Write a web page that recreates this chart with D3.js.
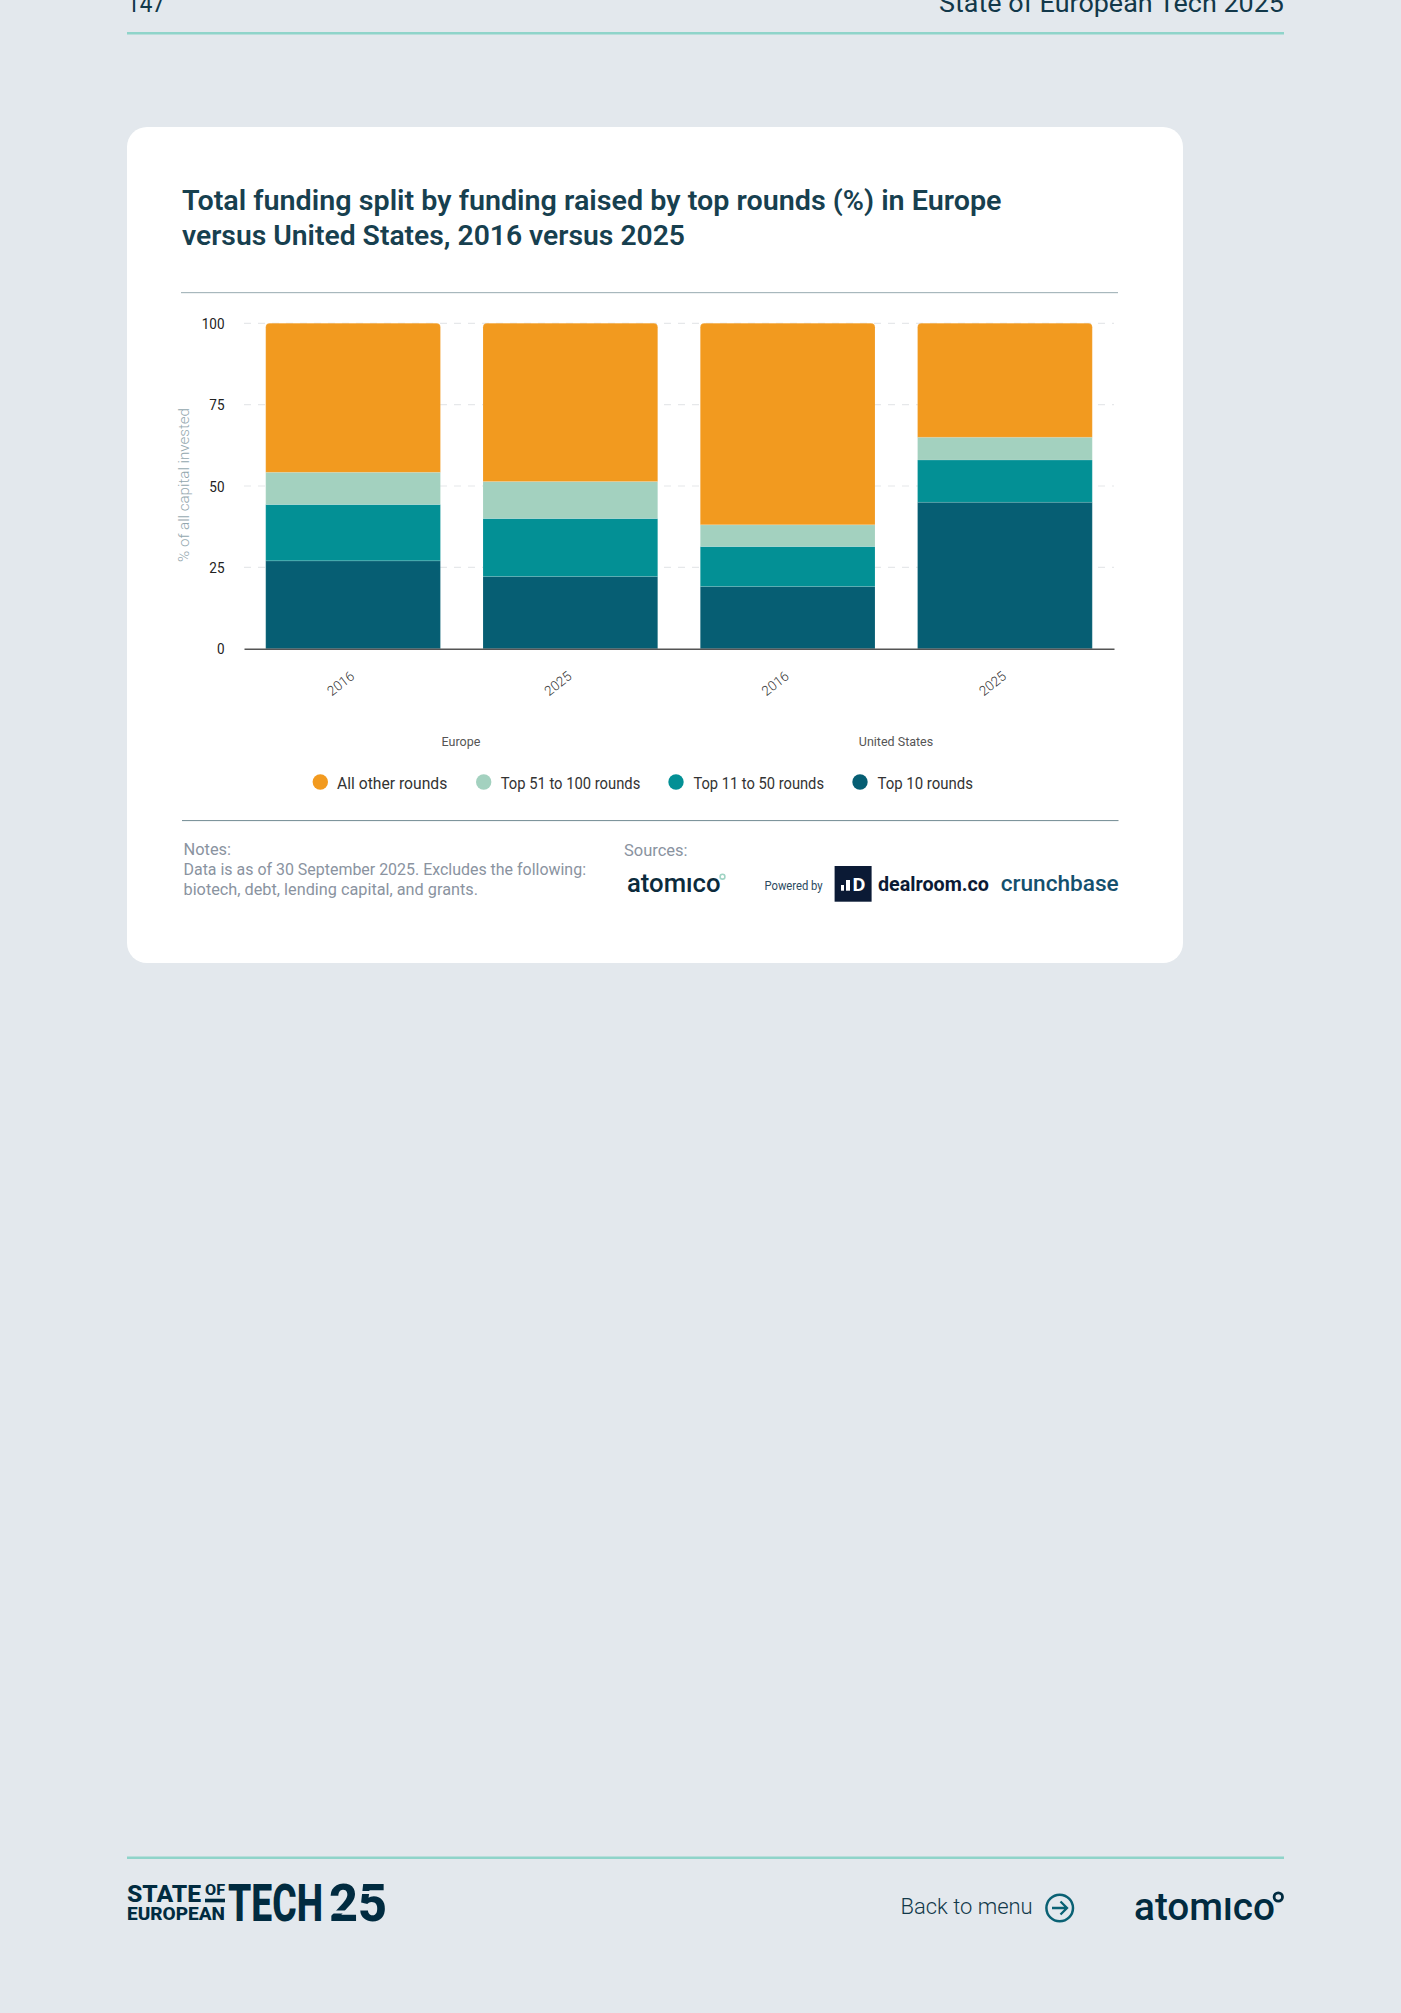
<!DOCTYPE html>
<html><head><meta charset="utf-8">
<script src="https://cdn.jsdelivr.net/npm/d3@7/dist/d3.min.js"></script>
<style>html,body{margin:0;padding:0;background:#e3e8ed;overflow:hidden}svg{display:block}text{font-family:Roboto,sans-serif}</style>
</head><body><div id="c"></div>
<script>
const regions = ["Europe", "United States"];
const years = ["2016", "2025"];
const seriesNames = ["Top 10 rounds", "Top 11 to 50 rounds", "Top 51 to 100 rounds", "All other rounds"];
const top10 = [27, 22.2, 19.1, 45];
const top11to50 = [17.3, 17.8, 12.3, 13];
const top51to100 = [9.9, 11.4, 6.7, 7];
const allOther = [45.8, 48.6, 61.9, 35];
const colors = ["#065e73", "#039095", "#a3d1bf", "#f29a1f"];
const yTicks = [0, 25, 50, 75, 100];
const legendOrder = ["All other rounds", "Top 51 to 100 rounds", "Top 11 to 50 rounds", "Top 10 rounds"];
const titleLines = ["Total funding split by funding raised by top rounds (%) in Europe", "versus United States, 2016 versus 2025"];
const noteLines = ["Notes:", "Data is as of 30 September 2025. Excludes the following:", "biotech, debt, lending capital, and grants."];

const svg = d3.select("#c").append("svg").attr("width", 1401).attr("height", 2013);

function T(s, x, x2, y, size, fill, weight, g) {
  const t = (g || svg).append("text").attr("x", x).attr("y", y).attr("font-size", size)
    .attr("fill", fill).attr("font-weight", weight || 400).text(s);
  if (x2) t.attr("textLength", x2 - x).attr("lengthAdjust", "spacingAndGlyphs");
  return t;
}
// wordmark: the logo's i is a dotless small capital
function logo(x, x2, y, size, fill) {
  const t = T(null, x, x2, y, size, fill, 500);
  t.append("tspan").text("atom");
  t.append("tspan").style("font-variant", "small-caps").text("i");
  t.append("tspan").text("co");
  return t;
}

// header
T("147", 127, 165, 12, 25, "#12384a", 400);
T("State of European Tech 2025", 939, 1284, 12, 25, "#12384a", 400);
svg.append("rect").attr("x", 127).attr("y", 32).attr("width", 1157).attr("height", 2.5).attr("fill", "#8fd4ca");

// card
svg.append("rect").attr("x", 127).attr("y", 127).attr("width", 1056).attr("height", 836).attr("rx", 20).attr("fill", "#fff");

// title
T(titleLines[0], 182, 1001.5, 210, 28.5, "#17404f", 600);
T(titleLines[1], 182, 685, 244.5, 28.5, "#17404f", 600);
svg.append("rect").attr("x", 181).attr("y", 292).attr("width", 937).attr("height", 1.2).attr("fill", "#a8b8bd");

// scales
const bars = regions.flatMap(r => years.map(y => r + "|" + y));
const x = d3.scaleBand().domain(bars).range([244, 1114]).paddingInner(0.196).paddingOuter(0.1);
const xGroup = d3.scaleBand().domain(regions).range([244, 1114]);
const y = d3.scaleLinear().domain([0, 100]).range([648.7, 323.3]);

// grid
svg.append("g").selectAll("line").data(yTicks.slice(1)).join("line")
  .attr("x1", 244).attr("x2", 1114).attr("y1", d => y(d)).attr("y2", d => y(d))
  .attr("stroke", "#e6e8ea").attr("stroke-width", 1.2).attr("stroke-dasharray", "7 7");

// stack
const rows = bars.map((b, i) => ({ key: b, [seriesNames[0]]: top10[i], [seriesNames[1]]: top11to50[i], [seriesNames[2]]: top51to100[i], [seriesNames[3]]: allOther[i] }));
const stack = d3.stack().keys(seriesNames)(rows);
stack.forEach((s, si) => {
  svg.append("g").selectAll("path").data(s).join("path").attr("fill", colors[si])
    .attr("stroke", "#fff").attr("stroke-opacity", 0.2).attr("stroke-width", 0.6)
    .attr("d", d => {
      const x0 = x(d.data.key), x1 = x0 + x.bandwidth(), t = y(d[1]), b = y(d[0]);
      const r = si === 3 ? 4 : 0;
      return `M${x0},${b}L${x0},${t + r}Q${x0},${t} ${x0 + r},${t}L${x1 - r},${t}Q${x1},${t} ${x1},${t + r}L${x1},${b}Z`;
    });
});

// y axis
const yAxis = svg.append("g").attr("transform", "translate(224.5,0)")
  .call(d3.axisLeft(y).tickValues(yTicks).tickSize(0).tickPadding(0));
yAxis.select(".domain").remove();
yAxis.selectAll("text").attr("font-size", 15).attr("fill", "#222").attr("font-family", "Roboto").attr("font-weight", 400).attr("dy", "0.34em")
  .each(function () { d3.select(this).attr("textLength", this.getComputedTextLength() * 0.9).attr("lengthAdjust", "spacingAndGlyphs"); });

// x axis
const xAxis = svg.append("g").attr("transform", "translate(0,648.7)")
  .call(d3.axisBottom(x).tickSize(0).tickFormat(d => d.split("|")[1]));
xAxis.select(".domain").attr("stroke", "#555").attr("stroke-width", 1.6);
xAxis.selectAll("text").attr("font-size", 13.5).attr("fill", "#333").attr("font-family", "Roboto").attr("font-weight", 300)
  .attr("y", 0).attr("dy", 0).attr("text-anchor", "middle").attr("transform", "translate(-9.5,38.5) rotate(-38)");

// group labels
svg.append("g").selectAll("text").data(regions).join("text")
  .attr("x", d => xGroup(d) + xGroup.bandwidth() / 2 - 0.5).attr("y", 746).attr("text-anchor", "middle")
  .attr("font-size", 12.5).attr("fill", "#555").text(d => d);

// y title
svg.append("text").attr("transform", "translate(189,485) rotate(-90)").attr("text-anchor", "middle")
  .attr("font-size", 14.5).attr("font-weight", 300).attr("fill", "#93a7ae")
  .attr("textLength", 154).attr("lengthAdjust", "spacingAndGlyphs").text("% of all capital invested");

// legend
const legendCx = [320.3, 483.7, 676, 860];
const legendT0 = [337, 500.7, 693.4, 877.5];
const legendT1 = [447.3, 640.3, 824, 973];
legendOrder.forEach((n, i) => {
  svg.append("circle").attr("cx", legendCx[i]).attr("cy", 782).attr("r", 7.7).attr("fill", colors[seriesNames.indexOf(n)]);
  T(n, legendT0[i], legendT1[i], 789, 16, "#333");
});

svg.append("rect").attr("x", 182).attr("y", 820).attr("width", 936.5).attr("height", 1.1).attr("fill", "#7e959c");

// notes
T(noteLines[0], 183.5, 231, 855, 16, "#8a939f");
T(noteLines[1], 183.5, 586, 875, 16, "#8a939f");
T(noteLines[2], 183.5, 478, 895, 16, "#8a939f");
T("Sources:", 624, 687.6, 856, 16, "#8a939f");

// source logos
logo(627, 720.5, 892, 25, "#0c2b3c");
svg.append("circle").attr("cx", 722.5).attr("cy", 876.7).attr("r", 2.4).attr("fill", "none").attr("stroke", "#a0d4c4").attr("stroke-width", 1.6);
T("Powered by", 764.5, 822.7, 890, 12.5, "#2b4a60");
svg.append("rect").attr("x", 834.6).attr("y", 866).attr("width", 37).attr("height", 35.7).attr("fill", "#0b1a35");
svg.append("rect").attr("x", 841).attr("y", 885).attr("width", 3).attr("height", 5.7).attr("fill", "#fff");
svg.append("rect").attr("x", 846).attr("y", 880).attr("width", 4).attr("height", 10.7).attr("fill", "#fff");
T("D", 852.6, 865.5, 890.7, 19, "#fff", 700);
T("dealroom.co", 878, 989, 891, 20, "#0b1a35", 700);
T("crunchbase", 1000.7, 1118.7, 890.5, 22, "#14506e", 500);

// footer
svg.append("rect").attr("x", 127).attr("y", 1856.5).attr("width", 1157).attr("height", 2.5).attr("fill", "#8fd4ca");
T("STATE", 127, 201, 1901.7, 23.5, "#012b40", 800);
T("OF", 205, 225, 1895, 15, "#012b40", 800);
svg.append("rect").attr("x", 205).attr("y", 1898.7).attr("width", 20).attr("height", 3.6).attr("fill", "#012b40");
T("EUROPEAN", 127, 225, 1920.3, 19.2, "#012b40", 800);
T("TECH", 228, 323, 1920.7, 51, "#012b40", 800);
T("25", 329, 387, 1920.7, 51, "#012b40", 800);
// the logo's cuts through the numerals
svg.append("rect").attr("x", 327).attr("y", 1910.5).attr("width", 30).attr("height", 3).attr("fill", "#e3e8ed");
svg.append("rect").attr("x", 358).attr("y", 1891).attr("width", 30).attr("height", 3).attr("fill", "#e3e8ed");

T("Back to menu", 900.5, 1032.7, 1914, 22.5, "#12384a", 300);
svg.append("circle").attr("cx", 1059.7).attr("cy", 1908).attr("r", 13.3).attr("fill", "none").attr("stroke", "#0a6174").attr("stroke-width", 2.5);
svg.append("path").attr("d", "M1052,1908H1067M1060.5,1901.5L1067,1908L1060.5,1914.5").attr("fill", "none").attr("stroke", "#0a6174").attr("stroke-width", 2.3);
logo(1134, 1275, 1920.3, 38, "#012b40");
svg.append("circle").attr("cx", 1278.3).attr("cy", 1897).attr("r", 4.2).attr("fill", "none").attr("stroke", "#012b40").attr("stroke-width", 2.8);
</script></body></html>
